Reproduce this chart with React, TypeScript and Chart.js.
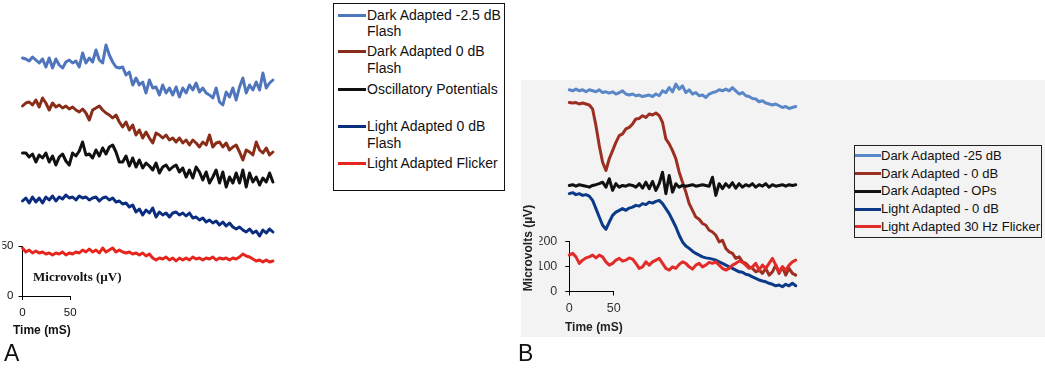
import React, { useEffect, useRef } from 'react';
import { Chart, registerables } from 'chart.js';

Chart.register(...registerables);

// ---------- Panel A (time in mS, amplitude in µV, traces offset vertically) ----------
const timeA = [0, 3.5, 7, 10.5, 14, 17.5, 21, 24.5, 28, 31.5, 35, 38.5, 42, 45.5, 49, 52.5, 56, 59.5, 63, 66.5,
  70, 73.5, 77, 80.5, 84, 87.5, 91, 94.5, 98, 101.5, 105, 108.5, 112, 115.5, 119, 122.5, 126, 129.5, 133, 136.5,
  140, 143.5, 147, 150.5, 154, 157.5, 161, 164.5, 168, 171.5, 175, 178.5, 182, 185.5, 189, 192.5, 196, 199.5, 203, 206.5,
  210, 213.5, 217, 220.5, 224, 227.5, 231, 234.5, 238, 241.5, 245, 248.5, 252, 255.5, 259, 262.5];

const darkMinus25A = [238, 237, 235, 239, 236, 233, 237, 229, 238, 228, 237, 231, 228, 234, 236, 233, 235, 229, 243, 233,
  238, 234, 246, 236, 233, 251, 241, 234, 229, 228, 229, 221, 224, 211, 218, 211, 214, 203, 216, 208,
  209, 201, 211, 203, 208, 201, 209, 199, 208, 203, 211, 206, 213, 204, 208, 203, 201, 198, 208, 194,
  191, 204, 199, 208, 196, 209, 218, 203, 211, 206, 214, 206, 223, 208, 213, 216];
const dark0A = [190, 193, 194, 191, 196, 189, 198, 193, 186, 193, 189, 191, 188, 190, 187, 189, 186, 184, 187, 183,
  176, 186, 188, 190, 186, 183, 181, 178, 181, 174, 169, 174, 166, 171, 161, 166, 158, 164, 158, 153,
  163, 161, 158, 161, 156, 158, 154, 158, 153, 156, 151, 156, 153, 149, 154, 151, 161, 149, 153, 154,
  149, 153, 146, 149, 151, 144, 136, 146, 144, 141, 154, 146, 143, 148, 141, 144];
const oscillatoryA = [143, 143, 139, 142, 134, 141, 138, 143, 134, 140, 131, 139, 142, 135, 131, 143, 140, 145, 154, 141,
  142, 138, 146, 140, 148, 142, 149, 151, 144, 134, 134, 140, 130, 138, 129, 136, 128, 133, 130, 126,
  133, 123, 129, 131, 126, 129, 131, 124, 128, 119, 126, 118, 129, 124, 116, 124, 113, 119, 126, 113,
  124, 109, 119, 113, 123, 113, 126, 109, 123, 114, 119, 111, 118, 114, 123, 114];
const light0A = [95, 98, 93, 99, 94, 98, 93, 99, 96, 100, 95, 99, 97, 101, 98, 99, 96, 100, 98, 99,
  96, 98, 99, 95, 98, 99, 96, 98, 94, 95, 92, 93, 89, 91, 84, 87, 81, 86, 83, 88,
  79, 84, 81, 83, 79, 83, 84, 81, 83, 80, 83, 78, 79, 76, 78, 74, 76, 73, 75, 71,
  74, 70, 73, 69, 67, 69, 66, 64, 67, 63, 65, 60, 66, 63, 67, 64];
const flickerA = [48, 44, 46, 43, 45, 43, 44, 42, 43, 41, 43, 42, 44, 41, 43, 42, 44, 43, 46, 44,
  47, 44, 46, 43, 48, 44, 46, 48, 44, 46, 44, 43, 44, 42, 43, 41, 43, 40, 42, 38,
  36, 38, 37, 39, 36, 38, 35, 38, 36, 38, 36, 39, 37, 38, 36, 38, 37, 39, 36, 38,
  37, 38, 36, 38, 37, 39, 42, 40, 39, 37, 35, 36, 34, 36, 34, 35];

const labelsA = ['Dark Adapted -2.5 dB\nFlash', 'Dark Adapted 0 dB\nFlash', 'Oscillatory Potentials', 'Light Adapted 0 dB\nFlash', 'Light Adapted Flicker'];
const colorsA = ['#4f76bd', '#8a2d18', '#111111', '#0b2d80', '#e6261d'];
const valuesA = [darkMinus25A, dark0A, oscillatoryA, light0A, flickerA];
const ticksA = [0, 50];

// ---------- Panel B ----------
const timeB = [0, 3.75, 7.5, 11.25, 15, 18.75, 22.5, 26.25, 30, 33.75, 37.5, 41.25, 45, 48.75, 52.5, 56.25, 60, 63.75, 67.5, 71.25,
  75, 78.75, 82.5, 86.25, 90, 93.75, 97.5, 101.25, 105, 108.75, 112.5, 116.25, 120, 123.75, 127.5, 131.25, 135, 138.75, 142.5, 146.25,
  150, 153.75, 157.5, 161.25, 165, 168.75, 172.5, 176.25, 180, 183.75, 187.5, 191.25, 195, 198.75, 202.5, 206.25, 210, 213.75, 217.5, 221.25,
  225, 228.75, 232.5, 236.25, 240, 243.75, 247.5, 251.25, 255];

const darkMinus25B = [810, 806, 813, 806, 810, 802, 810, 806, 802, 810, 799, 802, 797, 802, 793, 799, 806, 793, 789, 793,
  786, 789, 783, 786, 789, 783, 793, 786, 806, 799, 819, 802, 833, 813, 826, 799, 810, 793, 799, 786,
  789, 779, 793, 799, 802, 810, 806, 813, 806, 819, 806, 793, 799, 786, 783, 775, 773, 762, 766, 757,
  753, 749, 753, 746, 739, 743, 735, 739, 743];
const dark0B = [759, 757, 759, 753, 757, 753, 749, 733, 666, 586, 519, 486, 533, 566, 599, 626, 633, 653, 659, 673,
  693, 695, 706, 699, 713, 709, 717, 706, 679, 613, 593, 566, 533, 479, 439, 399, 353, 326, 299, 290,
  273, 266, 246, 239, 226, 199, 206, 173, 159, 153, 133, 139, 119, 113, 99, 93, 79, 86, 73, 93,
  66, 79, 106, 73, 99, 66, 93, 73, 66];
const opsB = [426, 429, 423, 429, 426, 423, 419, 426, 429, 433, 439, 419, 453, 406, 433, 419, 426, 423, 429, 426,
  419, 433, 415, 439, 413, 442, 406, 433, 479, 393, 466, 399, 433, 419, 426, 423, 426, 429, 423, 426,
  429, 426, 423, 459, 386, 433, 413, 433, 419, 437, 415, 433, 419, 429, 423, 433, 419, 429, 423, 433,
  419, 429, 423, 426, 429, 423, 429, 426, 429];
const light0B = [393, 397, 389, 393, 386, 389, 383, 366, 333, 299, 266, 250, 279, 306, 319, 326, 333, 326, 335, 339,
  346, 343, 353, 349, 359, 355, 362, 366, 353, 333, 313, 286, 259, 226, 199, 183, 173, 162, 153, 146,
  139, 135, 133, 130, 126, 119, 113, 106, 99, 93, 86, 79, 77, 69, 66, 59, 53, 46, 42, 39,
  33, 29, 23, 26, 19, 29, 23, 33, 23];
const flicker30B = [146, 153, 139, 113, 126, 135, 139, 146, 135, 146, 139, 119, 106, 113, 126, 133, 122, 126, 135, 130,
  113, 93, 99, 119, 106, 119, 126, 133, 113, 93, 86, 99, 93, 109, 119, 113, 99, 90, 106, 113,
  99, 106, 117, 113, 119, 106, 93, 86, 93, 106, 113, 122, 117, 106, 93, 99, 113, 86, 106, 93,
  113, 133, 106, 79, 99, 86, 106, 119, 126];

const labelsB = ['Dark Adapted -25 dB', 'Dark Adapted - 0 dB', 'Dark Adapted - OPs', 'Light Adapted - 0 dB', 'Light Adapted 30 Hz Flicker'];
const colorsB = ['#5a87c7', '#9d2f22', '#111111', '#0a3a88', '#e22c2a'];
const valuesB = [darkMinus25B, dark0B, opsB, light0B, flicker30B];
const drawOrderB = [4, 3, 1, 2, 0];
const ticksXB = [0, 50];
const ticksYB = [0, 100, 200];

const FONT = '"Liberation Sans", Arial, sans-serif';

function axis(min: number, max: number, step: number, fit: (s: any) => void, tickFont: any, color: string, padding: number) {
  return {
    type: 'linear' as const,
    bounds: 'data' as const,
    afterDataLimits: (s: any) => { s.min = min; s.max = max; },
    afterFit: fit,
    ticks: { stepSize: step, padding, font: tickFont, color, maxRotation: 0, autoSkip: false },
    grid: { display: true, drawOnChartArea: false, drawTicks: true, tickLength: 4, color: '#000', lineWidth: 1 },
    border: { display: true, color: '#000', width: 1 },
  };
}

function buildConfig(times: number[], values: number[][], labels: string[], colors: string[], order: number[] | null,
  padding: any, xAxis: any, yAxis: any): any {
  return {
    type: 'line',
    data: {
      datasets: values.map((vals, i) => ({
        label: labels[i],
        data: vals.map((v, j) => ({ x: times[j], y: v })),
        borderColor: colors[i],
        backgroundColor: colors[i],
        borderWidth: 3,
        pointRadius: 0,
        tension: 0,
        fill: false,
        clip: false,
        borderJoinStyle: 'round',
        borderCapStyle: 'round',
        order: order ? order[i] : i,
      })),
    },
    options: {
      animation: false,
      responsive: false,
      maintainAspectRatio: false,
      events: [],
      layout: { padding },
      plugins: { legend: { display: false }, tooltip: { enabled: false }, title: { display: false } },
      scales: { x: xAxis, y: yAxis },
    },
  };
}

function LegendRows({ labels, colors, rows, lineX, lineW, textX, fontSize, lineHeight }: any) {
  return (
    <>
      {labels.map((lab: string, i: number) => (
        <React.Fragment key={i}>
          <div style={{ position: 'absolute', left: lineX, top: rows[i] - 1.5, width: lineW, height: 3, background: colors[i] }} />
          <div style={{ position: 'absolute', left: textX, top: rows[i] - lineHeight / 2, fontSize, lineHeight: lineHeight + 'px', whiteSpace: 'pre', color: '#111', fontFamily: FONT }}>{lab}</div>
        </React.Fragment>
      ))}
    </>
  );
}

export default function App() {
  const refA = useRef<HTMLCanvasElement>(null);
  const refB = useRef<HTMLCanvasElement>(null);

  useEffect(() => {
    const fontA = { family: FONT, size: 11.5 };
    const fontB = { family: FONT, size: 12.5 };
    const cfgA = buildConfig(timeA, valuesA, labelsA, colorsA, null,
      { left: 2.5, right: 259.8, top: 246, bottom: 42 },
      axis(ticksA[0], ticksA[1], 50, (s: any) => { s.height = 30; }, fontA, '#111', 6),
      axis(ticksA[0], ticksA[1], 50, (s: any) => { s.width = 20; }, fontA, '#111', 5));
    const cfgB = buildConfig(timeB, valuesB, labelsB, colorsB, drawOrderB,
      { left: 24.3, right: 231.3, top: 241.7, bottom: 46.5 },
      axis(ticksXB[0], ticksXB[1], 50, (s: any) => { s.height = 30; }, fontB, '#333', 6),
      axis(ticksYB[0], ticksYB[2], 100, (s: any) => { s.width = 30; }, fontB, '#333', 8));
    const a = new Chart(refA.current as HTMLCanvasElement, cfgA);
    const b = new Chart(refB.current as HTMLCanvasElement, cfgB);
    return () => { a.destroy(); b.destroy(); };
  }, []);

  return (
    <div style={{ position: 'absolute', left: 0, top: 0, width: 1045, height: 368, background: '#fff', overflow: 'hidden', fontFamily: FONT }}>
      <div style={{ position: 'absolute', left: 521, top: 80, width: 524, height: 257, background: '#f3f3f3' }} />
      <canvas ref={refA} width={330} height={368} style={{ position: 'absolute', left: 0, top: 0 }} />
      <canvas ref={refB} width={330} height={368} style={{ position: 'absolute', left: 515, top: 0 }} />

      {/* Panel A legend */}
      <div style={{ position: 'absolute', left: 333, top: 3, width: 170, height: 186, border: '1px solid #111' }} />
      <LegendRows labels={labelsA} colors={colorsA} rows={[15, 51.7, 89.3, 126.7, 163.3]} lineX={338} lineW={28} textX={367} fontSize={14} lineHeight={16.7} />

      {/* Panel B legend */}
      <div style={{ position: 'absolute', left: 854, top: 145, width: 186, height: 91, border: '1px solid #222' }} />
      <LegendRows labels={labelsB} colors={colorsB} rows={[155.7, 173.7, 191.3, 209, 226.7]} lineX={855} lineW={26} textX={881} fontSize={13} lineHeight={16} />

      {/* Axis titles */}
      <div style={{ position: 'absolute', left: 33, top: 269, fontFamily: '"Liberation Serif", "Times New Roman", serif', fontWeight: 'bold', fontSize: 13, lineHeight: '16px', whiteSpace: 'nowrap', color: '#111' }}>Microvolts (µV)</div>
      <div style={{ position: 'absolute', left: 13, top: 322, fontWeight: 'bold', fontSize: 12, lineHeight: '16px', whiteSpace: 'nowrap', color: '#111' }}>Time (mS)</div>
      <div style={{ position: 'absolute', left: 565, top: 319, fontWeight: 'bold', fontSize: 12, lineHeight: '16px', whiteSpace: 'nowrap', color: '#222' }}>Time (mS)</div>
      <div style={{ position: 'absolute', left: 527.7, top: 248, transform: 'translate(-50%, -50%) rotate(-90deg)', fontWeight: 'bold', fontSize: 12, lineHeight: '14px', whiteSpace: 'nowrap', color: '#222' }}>Microvolts (µV)</div>

      {/* Panel letters */}
      <div style={{ position: 'absolute', left: 4, top: 342, fontSize: 23, lineHeight: '23px', color: '#111' }}>A</div>
      <div style={{ position: 'absolute', left: 518, top: 342, fontSize: 23, lineHeight: '23px', color: '#111' }}>B</div>
    </div>
  );
}
